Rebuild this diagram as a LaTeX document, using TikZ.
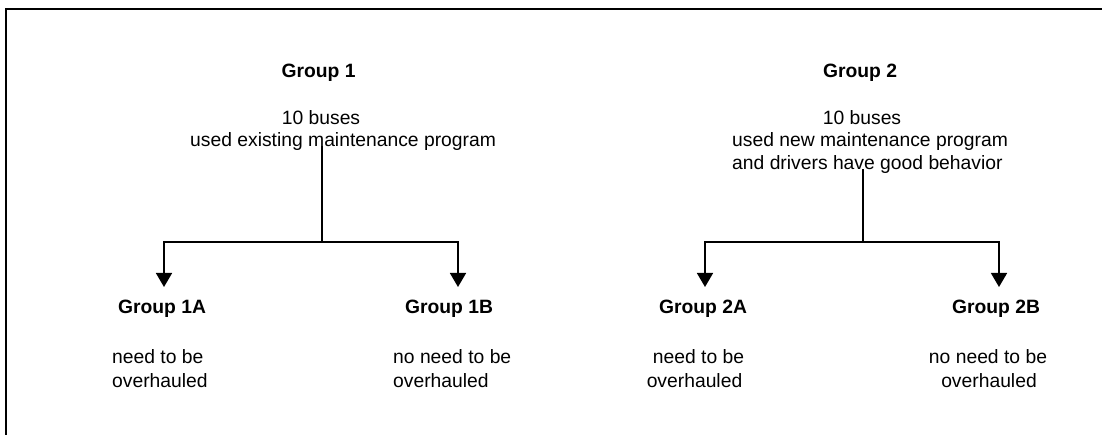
\documentclass[tikz,border=0pt]{standalone}
\usepackage{fontspec}
\setmainfont{Liberation Sans}
\usetikzlibrary{arrows.meta}
\begin{document}
\begin{tikzpicture}[x=1pt,y=-1pt,
  txt/.style={inner sep=0pt,font=\fontsize{19.3}{22.5}\selectfont},
  ttl/.style={txt,font=\fontsize{19.3}{22.5}\selectfont\bfseries},
  conn/.style={line width=1.6pt,draw=black},
  arr/.style={conn,-{Triangle[width=16pt,length=14pt]}},
  frame/.style={line width=2pt,draw=black}]
\useasboundingbox (0,0) rectangle (1102,435);
\draw[frame] (6,436) -- (6,9.5) -- (1103,9.5);

% Group 1
\node[ttl,anchor=base] (g1t) at (318.5,77.5) {Group 1};
\node[txt,anchor=base] (g1l1) at (321,124.5) {10 buses};
\node[txt,anchor=base west] (g1l2) at (190,147) {used existing maintenance program};
\coordinate (j1) at (322,242);
\coordinate (t1a) at (164,287);
\coordinate (t1b) at (458,287);
\draw[conn] ([yshift=5pt]g1l2.south -| j1) -- (j1);
\draw[arr] (j1) -| (t1a);
\draw[arr] (j1) -| (t1b);

\node[ttl,anchor=base] (g1a) at (162,314) {Group 1A};
\node[txt,anchor=base west] (g1a1) at (112,363) {need to be};
\node[txt,anchor=base west] (g1a2) at (112,387) {overhauled};
\node[ttl,anchor=base] (g1b) at (449,314) {Group 1B};
\node[txt,anchor=base west] (g1b1) at (393,363) {no need to be};
\node[txt,anchor=base west] (g1b2) at (393,387) {overhauled};

% Group 2
\node[ttl,anchor=base] (g2t) at (860,77.5) {Group 2};
\node[txt,anchor=base] (g2l1) at (862,124.5) {10 buses};
\node[txt,anchor=base west] (g2l2) at (732,147) {used new maintenance program};
\node[txt,anchor=base west] (g2l3) at (732,170) {and drivers have good behavior};
\coordinate (j2) at (863,242);
\coordinate (t2a) at (705,287);
\coordinate (t2b) at (999,287);
\draw[conn] ([yshift=5pt]g2l3.south -| j2) -- (j2);
\draw[arr] (j2) -| (t2a);
\draw[arr] (j2) -| (t2b);

\node[ttl,anchor=base] (g2a) at (703,314) {Group 2A};
\node[txt,anchor=base] (g2a1) at (698.5,363) {need to be};
\node[txt,anchor=base] (g2a2) at (694.5,387) {overhauled};
\node[ttl,anchor=base] (g2b) at (996,314) {Group 2B};
\node[txt,anchor=base] (g2b1) at (988,363) {no need to be};
\node[txt,anchor=base] (g2b2) at (989,387) {overhauled};
\end{tikzpicture}
\end{document}
